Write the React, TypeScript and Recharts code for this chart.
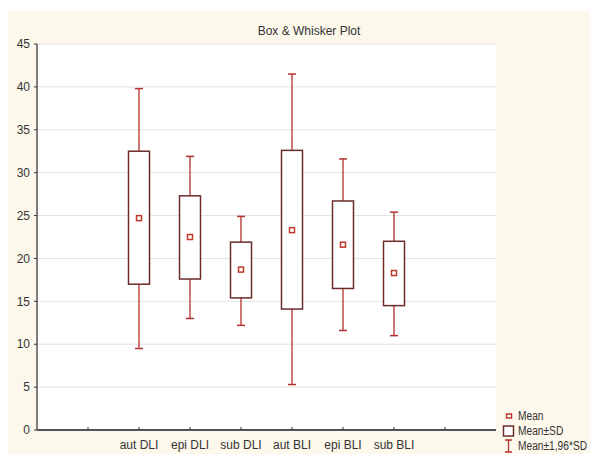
import React from 'react';
import { ComposedChart, Bar, Scatter, XAxis, YAxis, CartesianGrid } from 'recharts';

const categories = ['aut DLI', 'epi DLI', 'sub DLI', 'aut BLI', 'epi BLI', 'sub BLI'];
const positions = [2, 3, 4, 5, 6, 7];
const means = [24.7, 22.5, 18.7, 23.3, 21.6, 18.3];
const sdLow = [17.0, 17.6, 15.4, 14.1, 16.5, 14.5];
const sdHigh = [32.5, 27.3, 21.9, 32.6, 26.7, 22.0];
const ciLow = [9.5, 13.0, 12.2, 5.3, 11.6, 11.0];
const ciHigh = [39.8, 31.9, 24.9, 41.5, 31.6, 25.4];

const xTicks = [1, 2, 3, 4, 5, 6, 7, 8];
const yTicks = [0, 5, 10, 15, 20, 25, 30, 35, 40, 45];
const legendItems = ['Mean', 'Mean±SD', 'Mean±1,96*SD'];

const data = categories.map((name, i) => ({
  name,
  pos: positions[i],
  mean: means[i],
  sdLow: sdLow[i],
  sdHigh: sdHigh[i],
  ciLow: ciLow[i],
  ciHigh: ciHigh[i],
}));

const WHISKER = '#b3312f';
const BOX = '#6b2c2c';
const MEAN = '#c0392b';
const FRAME = '#555';
const CREAM = '#fdf8ec';
const FONT = '"Liberation Sans", Arial, sans-serif';

function BoxShape(props: any) {
  const { x, y, width, height, payload } = props;
  const k = height / (payload.ciHigh - payload.ciLow);
  const py = (v: number) => y + (payload.ciHigh - v) * k;
  const cx = x + width / 2;
  const cap = 4;
  return (
    <g>
      <line x1={cx} x2={cx} y1={py(payload.ciHigh)} y2={py(payload.sdHigh)} stroke={WHISKER} strokeWidth={1.3} />
      <line x1={cx} x2={cx} y1={py(payload.sdLow)} y2={py(payload.ciLow)} stroke={WHISKER} strokeWidth={1.3} />
      <line x1={cx - cap} x2={cx + cap} y1={py(payload.ciHigh)} y2={py(payload.ciHigh)} stroke={WHISKER} strokeWidth={1.5} />
      <line x1={cx - cap} x2={cx + cap} y1={py(payload.ciLow)} y2={py(payload.ciLow)} stroke={WHISKER} strokeWidth={1.5} />
      <rect
        x={x}
        y={py(payload.sdHigh)}
        width={width}
        height={py(payload.sdLow) - py(payload.sdHigh)}
        fill="#fff"
        stroke={BOX}
        strokeWidth={1.5}
      />
    </g>
  );
}

function MeanShape(props: any) {
  const { cx, cy } = props;
  return <rect x={cx - 2.5} y={cy - 2.5} width={5} height={5} fill="#fff" stroke={MEAN} strokeWidth={1.5} />;
}

function BottomTick(props: any) {
  const { x, y, payload } = props;
  const idx = positions.indexOf(payload.value);
  return (
    <g>
      <line x1={x} x2={x} y1={y} y2={y - 3} stroke="#333" />
      {idx >= 0 && (
        <text x={x} y={y + 19} textAnchor="middle" fontSize={12} fill="#333" fontFamily={FONT}>
          {categories[idx]}
        </text>
      )}
    </g>
  );
}

function TopTick(props: any) {
  const { x, y } = props;
  return <line x1={x} x2={x} y1={y} y2={y + 3} stroke="#333" />;
}

function LegendIcon({ index }: { index: number }) {
  if (index === 0) {
    return (
      <svg width={14} height={12}>
        <rect x={4.5} y={4} width={5} height={4} fill="#fff" stroke={MEAN} strokeWidth={1.5} />
      </svg>
    );
  }
  if (index === 1) {
    return (
      <svg width={14} height={12}>
        <rect x={1.5} y={1} width={10} height={10} fill="#fff" stroke={BOX} strokeWidth={1.5} />
      </svg>
    );
  }
  return (
    <svg width={14} height={14}>
      <line x1={6.5} x2={6.5} y1={1} y2={13} stroke={WHISKER} strokeWidth={1.3} />
      <line x1={3} x2={10} y1={1} y2={1} stroke={WHISKER} strokeWidth={1.5} />
      <line x1={3} x2={10} y1={13} y2={13} stroke={WHISKER} strokeWidth={1.5} />
    </svg>
  );
}

export default function App() {
  return (
    <div style={{ paddingTop: 3, width: 590 }}>
      <div style={{ position: 'relative', width: 590, height: 443, background: CREAM, fontFamily: FONT, overflow: 'hidden' }}>
        <div
          style={{
            position: 'absolute',
            top: 13,
            left: 0,
            width: 602,
            textAlign: 'center',
            fontSize: 12,
            color: '#333',
          }}
        >
          Box &amp; Whisker Plot
        </div>
        <ComposedChart
          width={590}
          height={443}
          data={data}
          margin={{ top: 33, right: 102, bottom: 0, left: 0 }}
          style={{ position: 'absolute', top: 0, left: 0 }}
        >
          <CartesianGrid vertical={false} stroke="#e2e2e2" fill="#fff" />
          <XAxis
            dataKey="pos"
            type="number"
            domain={[0, 9]}
            ticks={xTicks}
            interval={0}
            height={24}
            tickSize={0}
            tickMargin={0}
            tickLine={false}
            tick={<BottomTick />}
            axisLine={{ stroke: FRAME, strokeWidth: 2 }}
          />
          <XAxis
            xAxisId="top"
            dataKey="pos"
            type="number"
            orientation="top"
            domain={[0, 9]}
            ticks={xTicks}
            interval={0}
            height={0}
            tickSize={0}
            tickMargin={0}
            tickLine={false}
            tick={<TopTick />}
            axisLine={{ stroke: FRAME, strokeWidth: 1.5 }}
          />
          <YAxis
            type="number"
            domain={[0, 45]}
            ticks={yTicks}
            interval={0}
            width={29}
            tickSize={3}
            tickMargin={4}
            tick={{ fontSize: 12, fill: '#333', fontFamily: FONT }}
            tickLine={{ stroke: '#333' }}
            axisLine={{ stroke: FRAME, strokeWidth: 1.5 }}
          />
          <YAxis
            yAxisId="right"
            orientation="right"
            type="number"
            domain={[0, 45]}
            width={0}
            tick={false}
            tickLine={false}
            axisLine={{ stroke: FRAME, strokeWidth: 2 }}
          />
          <Bar
            dataKey={(d: any) => [d.ciLow, d.ciHigh]}
            barSize={21}
            shape={<BoxShape />}
            isAnimationActive={false}
          />
          <Scatter dataKey="mean" shape={<MeanShape />} isAnimationActive={false} />
        </ComposedChart>
        <div
          style={{
            position: 'absolute',
            left: 494,
            top: 397,
            fontSize: 12,
            color: '#333',
            lineHeight: '16px',
          }}
        >
          {legendItems.map((item, i) => (
            <div key={item} style={{ display: 'flex', alignItems: 'center', whiteSpace: 'nowrap', height: 15 }}>
              <LegendIcon index={i} />
              <span style={{ marginLeft: 2, display: 'inline-block', transform: 'scaleX(0.85)', transformOrigin: 'left center' }}>
                {item}
              </span>
            </div>
          ))}
        </div>
      </div>
    </div>
  );
}
